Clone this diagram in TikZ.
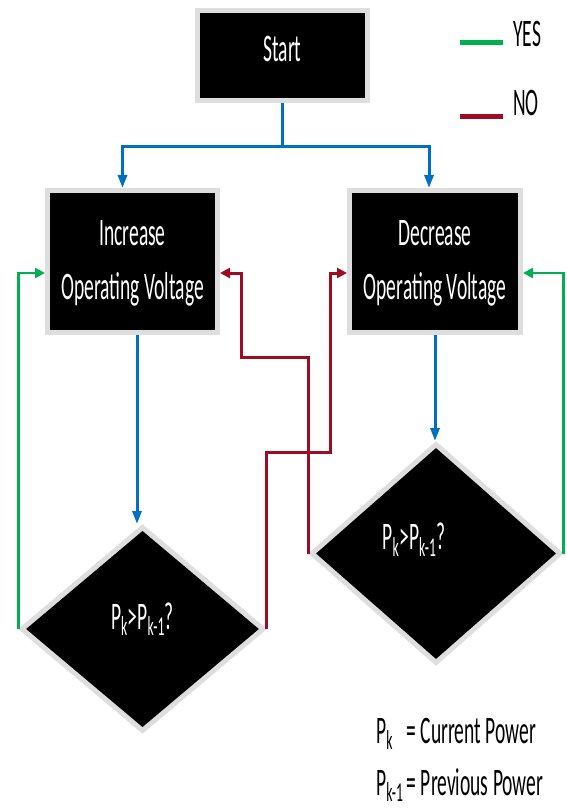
\documentclass[tikz,border=0pt]{standalone}
\usepackage{fontspec}
\setmainfont{Carlito}
\usepackage{graphicx}
\usetikzlibrary{shapes.geometric, arrows.meta}

\definecolor{flowblue}{RGB}{0,112,192}
\definecolor{yesgreen}{RGB}{0,176,80}
\definecolor{nored}{RGB}{158,12,36}

% tall narrow lettering used throughout
\newcommand{\tall}[1]{\scalebox{1}[2]{\begin{tabular}{@{}c@{}}#1\end{tabular}}}

\tikzstyle{block} = [rectangle, fill=black, draw=black!13, line width=5pt, text=white, inner sep=0pt, font=\fontsize{19.5}{27}\selectfont]
\tikzstyle{decision} = [diamond, aspect=1.2, fill=black, draw=black!13, line width=5pt, text=white, inner sep=0pt, font=\fontsize{19.5}{27}\selectfont]
\tikzstyle{flow} = [line width=3pt, draw=flowblue, -{Triangle[length=13pt,width=9pt]}]
\tikzstyle{yes} = [line width=2.5pt, draw=yesgreen, -{Triangle[length=10pt,width=10pt]}]
\tikzstyle{no} = [line width=3pt, draw=nored, -{Triangle[length=10pt,width=10pt]}]
\tikzstyle{legend} = [font=\fontsize{19.5}{26}\selectfont, inner sep=0pt]

\begin{document}
\begin{tikzpicture}[x=1pt, y=-1pt]
\useasboundingbox (0,0) rectangle (566,810);

\node (start) [block, minimum width=170pt, minimum height=90pt] at (282.5,55.5) {\raisebox{-5.5pt}[0pt][0pt]{\tall{Start}}};
\node (inc) [block, minimum width=170pt, minimum height=142pt] at (132.5,261.5) {\tall{Increase\\Operating Voltage}};
\node (dec) [block, minimum width=171pt, minimum height=142pt] at (435,261.5) {\tall{Decrease\\Operating Voltage}};
\node (dia1) [decision, minimum width=243pt, minimum height=205pt] at (142.5,629) {\raisebox{0pt}[0pt][0pt]{\tall{P\textsubscript{k}>P\textsubscript{k-1}?}}};
\node (dia2) [decision, minimum width=250pt, minimum height=220pt] at (436,553.5) {\raisebox{4pt}[0pt][0pt]{\makebox[0pt]{\kern-44pt\tall{P\textsubscript{k}>P\textsubscript{k-1}?}}}};

% legend
\coordinate (yesA) at (460,43);
\coordinate (yesB) at (503,43);
\coordinate (noA) at (460,117);
\coordinate (noB) at (503,117);
\node (yeslabel) [legend, anchor=west] at (513,36) {\tall{YES}};
\node (nolabel) [legend, anchor=west] at (513,105) {\tall{NO}};
\draw [line width=5pt, yesgreen] (yesA) -- (yesB);
\draw [line width=5pt, nored] (noA) -- (noB);

\node (symbols) [legend, anchor=west] at (376,759) {\scalebox{1}[2]{\begin{tabular}{@{}l@{\,}l@{}}P\textsubscript{k} & = Current Power\\P\textsubscript{k-1} & = Previous Power\end{tabular}}};

% blue flow
\coordinate (split) at (282.5,147);
\draw [line width=3pt, flowblue] (start.south) -- (split);
\draw [flow] (split) -| ([xshift=-10pt]inc.north);
\draw [flow] (split) -| ([xshift=-6pt]dec.north);
\draw [flow] ([xshift=4.5pt]inc.south) -- ([xshift=4.5pt]inc.south |- dia1.north);
\draw [flow] (dec.south) -- (dec.south |- dia2.north);

% yes branches
\draw [yes] (dia1.west) |- ([yshift=-11.5pt]inc.west);
\draw [yes] (dia2.east) |- ([yshift=-11.5pt]dec.east);

% no branches
\coordinate (cross1) at (330,452);
\coordinate (cross2) at (241,357);
\draw [no] (dia1.east) |- (cross1) |- ([yshift=-11.5pt]dec.west);
\draw [no] (dia2.west) |- (cross2) |- ([yshift=-11.5pt]inc.east);
\end{tikzpicture}
\end{document}
